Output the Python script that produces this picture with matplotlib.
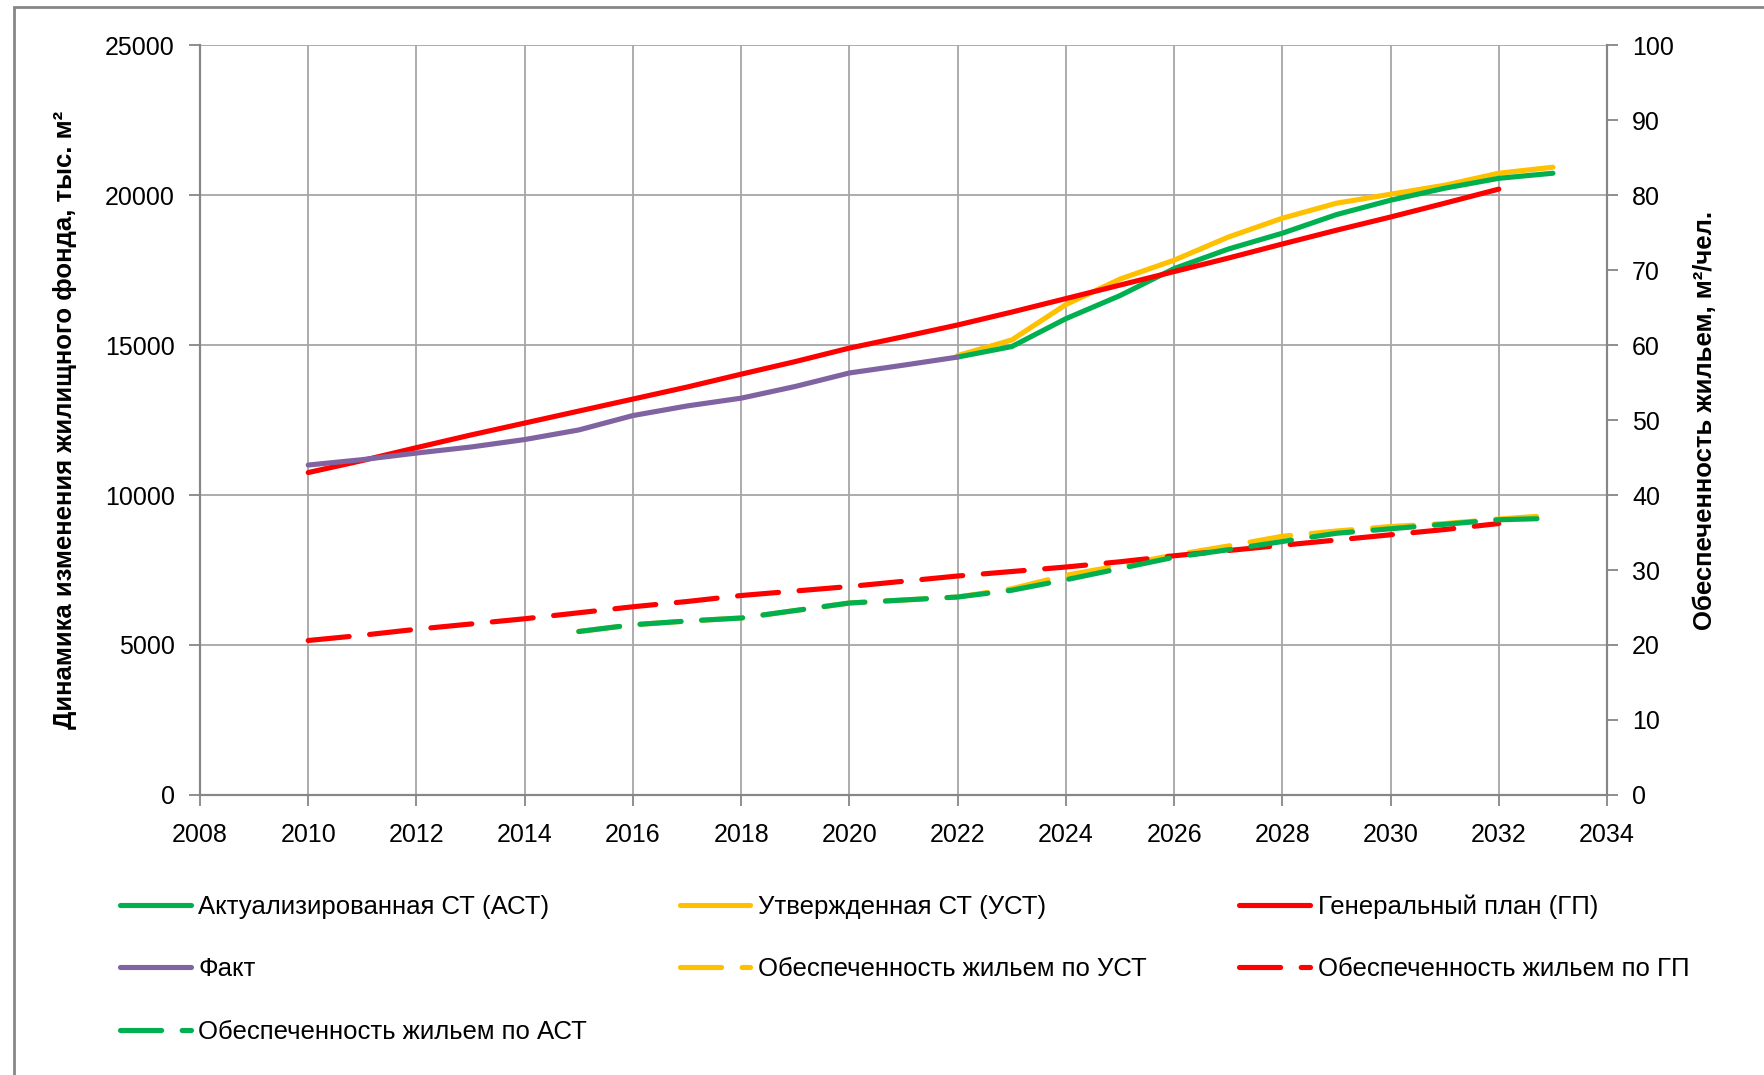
import matplotlib
matplotlib.use('Agg')
import matplotlib.pyplot as plt
from matplotlib.patches import Rectangle

plt.rcParams['font.family'] = ['Liberation Sans', 'DejaVu Sans']

# ---- data ----
years_fact = [2010, 2011, 2012, 2013, 2014, 2015, 2016, 2017, 2018, 2019, 2020, 2021, 2022]
fact = [11000, 11180, 11400, 11600, 11850, 12170, 12650, 12970, 13230, 13620, 14070, 14330, 14600]

years_plan = [2022, 2023, 2024, 2025, 2026, 2027, 2028, 2029, 2030, 2031, 2032, 2033]
ast = [14600, 14950, 15880, 16650, 17550, 18200, 18730, 19350, 19830, 20230, 20560, 20730]
ust = [14650, 15170, 16350, 17200, 17830, 18600, 19230, 19730, 20030, 20330, 20730, 20930]

years_gp = [2010, 2011, 2012, 2013, 2014, 2015, 2016, 2017, 2018, 2019, 2020,
            2021, 2022, 2023, 2024, 2025, 2026, 2027, 2028, 2029, 2030, 2031, 2032]
gp = [10750, 11150, 11580, 12000, 12400, 12800, 13200, 13600, 14030, 14450, 14900,
      15280, 15670, 16100, 16550, 17000, 17450, 17900, 18370, 18830, 19270, 19730, 20200]

# provision of housing, m2 per person (right axis)
prov_gp = [20.6, 21.3, 22.1, 22.8, 23.5, 24.3, 25.1, 25.8, 26.6, 27.2, 27.8,
           28.5, 29.2, 29.8, 30.4, 31.1, 31.9, 32.6, 33.3, 34.0, 34.7, 35.4, 36.2]

years_prov = [2015, 2016, 2017, 2018, 2019, 2020, 2021, 2022, 2023, 2024,
              2025, 2026, 2027, 2028, 2029, 2030, 2031, 2032, 2033]
prov_ast = [21.8, 22.7, 23.2, 23.6, 24.6, 25.6, 26.0, 26.4, 27.3, 28.7,
            30.2, 31.7, 32.7, 33.8, 34.9, 35.5, 36.1, 36.7, 36.9]
prov_ust = [21.8, 22.7, 23.2, 23.6, 24.6, 25.6, 26.0, 26.4, 27.5, 29.3,
            30.6, 32.0, 33.2, 34.5, 35.2, 35.8, 36.2, 36.8, 37.3]

labels = ['Актуализированная СТ (АСТ)', 'Утвержденная СТ (УСТ)', 'Генеральный план (ГП)',
          'Факт', 'Обеспеченность жильем по УСТ', 'Обеспеченность жильем по ГП',
          'Обеспеченность жильем по АСТ']

GREEN = '#00B050'
YELLOW = '#FFC000'
RED = '#FF0000'
PURPLE = '#8064A2'
GRID = '#A6A6A6'
SPINE = '#868686'

fig = plt.figure(figsize=(17.65, 10.75), dpi=100)
ax = fig.add_axes([0.1133, 0.2605, 0.9105 - 0.1133, 0.958 - 0.2605])
ax2 = ax.twinx()

lw = 3.7
dash = (8.0, 4.0)

l_ust, = ax.plot(years_plan, ust, color=YELLOW, lw=lw, solid_capstyle='round', solid_joinstyle='round')
l_ast, = ax.plot(years_plan, ast, color=GREEN, lw=lw, solid_capstyle='round', solid_joinstyle='round')
l_gp, = ax.plot(years_gp, gp, color=RED, lw=lw, solid_capstyle='round', solid_joinstyle='round')
l_fact, = ax.plot(years_fact, fact, color=PURPLE, lw=lw, solid_capstyle='round', solid_joinstyle='round')

d_ust, = ax2.plot(years_prov, prov_ust, color=YELLOW, lw=lw, dashes=dash, dash_capstyle='round')
d_gp, = ax2.plot(years_gp, prov_gp, color=RED, lw=lw, dashes=dash, dash_capstyle='round')
d_ast, = ax2.plot(years_prov, prov_ast, color=GREEN, lw=lw, dashes=dash, dash_capstyle='round')

ax.set_xlim(2008, 2034)
ax.set_ylim(0, 25000)
ax2.set_ylim(0, 100)
ax.set_xticks(range(2008, 2035, 2))
ax.set_yticks(range(0, 25001, 5000))
ax2.set_yticks(range(0, 101, 10))

ax.grid(True, color=GRID, lw=1.3)
ax.set_axisbelow(True)
for a in (ax, ax2):
    a.spines['top'].set_visible(False)
    for side in ('left', 'right', 'bottom'):
        a.spines[side].set_color(SPINE)
        a.spines[side].set_linewidth(1.5)
ax.tick_params(axis='both', colors=SPINE, labelcolor='black', labelsize=18, length=8, width=1.3)
ax.tick_params(axis='x', pad=12)
ax.tick_params(axis='y', pad=10)
ax2.tick_params(axis='y', colors=SPINE, labelcolor='black', labelsize=18, length=8, width=1.3, pad=10)

lab_font = dict(fontsize=18.5, fontweight='bold')
ax.set_ylabel('Динамика изменения жилищного фонда, тыс. м²', labelpad=20, **lab_font)
ax2.set_ylabel('Обеспеченность жильем, м²/чел.', rotation=90, labelpad=14, **lab_font)

# legend: column-major order so rows read like the original
handles = [l_ast, l_fact, d_ast, l_ust, d_ust, l_gp, d_gp]
names = [labels[0], labels[3], labels[6], labels[1], labels[4], labels[2], labels[5]]
fig.legend(handles, names, loc='upper left', bbox_to_anchor=(0.068, 0.168), ncol=3,
           frameon=False, fontsize=18.5, handlelength=2.75, handletextpad=0.3,
           columnspacing=3.6, labelspacing=1.5, borderpad=0, borderaxespad=0)

# outer chart frame
fig.patches.append(Rectangle((0.0079, -0.05), 1.1, 1.0435, transform=fig.transFigure,
                             fill=False, edgecolor=SPINE, lw=2))

fig.savefig('out.png', dpi=100)
